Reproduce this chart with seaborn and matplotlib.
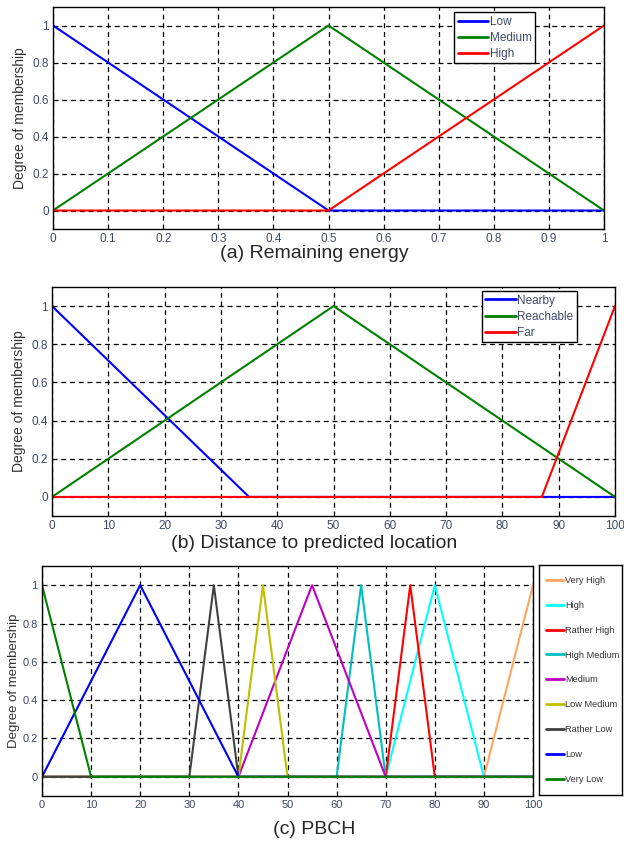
"""
Fuzzy membership functions: remaining energy, distance, PBCH.
"""

import matplotlib
matplotlib.use("Agg")
import pandas as pd
import matplotlib.pyplot as plt
import seaborn as sns

# ─── DATA ────────────────────────────────────────────────────────────────────

MU_TICKS = [0, 0.2, 0.4, 0.6, 0.8, 1]
MU_TICK_LABELS = ["0", "0.2", "0.4", "0.6", "0.8", "1"]

# (a) Remaining energy
ENERGY_SETS = ["Low", "Medium", "High"]
ENERGY_X = [0, 0.5, 1]
ENERGY_LOW = [1, 0, 0]
ENERGY_MEDIUM = [0, 1, 0]
ENERGY_HIGH = [0, 0, 1]
ENERGY_TICKS = [0, 0.1, 0.2, 0.3, 0.4, 0.5, 0.6, 0.7, 0.8, 0.9, 1]
ENERGY_TICK_LABELS = ["0", "0.1", "0.2", "0.3", "0.4", "0.5", "0.6", "0.7", "0.8", "0.9", "1"]

# (b) Distance to predicted location
DIST_SETS = ["Nearby", "Reachable", "Far"]
DIST_NEARBY_X = [0, 35, 100]
DIST_NEARBY = [1, 0, 0]
DIST_REACH_X = [0, 50, 100]
DIST_REACH = [0, 1, 0]
DIST_FAR_X = [0, 87, 100]
DIST_FAR = [0, 0, 1]

PCT_TICKS = [0, 10, 20, 30, 40, 50, 60, 70, 80, 90, 100]
PCT_TICK_LABELS = ["0", "10", "20", "30", "40", "50", "60", "70", "80", "90", "100"]

# (c) PBCH  (legend order, top to bottom)
PBCH_SETS = ["Very High", "High", "Rather High", "High Medium", "Medium",
             "Low Medium", "Rather Low", "Low", "Very Low"]
PBCH_X = {
    "Very High":   [0, 90, 100],
    "High":        [0, 70, 80, 90, 100],
    "Rather High": [0, 70, 75, 80, 100],
    "High Medium": [0, 60, 65, 70, 100],
    "Medium":      [0, 40, 55, 70, 100],
    "Low Medium":  [0, 40, 45, 50, 100],
    "Rather Low":  [0, 30, 35, 40, 100],
    "Low":         [0, 20, 40, 100],
    "Very Low":    [0, 10, 100],
}
PBCH_MU = {
    "Very High":   [0, 0, 1],
    "High":        [0, 0, 1, 0, 0],
    "Rather High": [0, 0, 1, 0, 0],
    "High Medium": [0, 0, 1, 0, 0],
    "Medium":      [0, 0, 1, 0, 0],
    "Low Medium":  [0, 0, 1, 0, 0],
    "Rather Low":  [0, 0, 1, 0, 0],
    "Low":         [0, 1, 0, 0],
    "Very Low":    [1, 0, 0],
}

# ─── STYLE ───────────────────────────────────────────────────────────────────

BLUE, GREEN, RED = "#0000ff", "#008000", "#ff0000"
PAL_ENERGY = {"Low": BLUE, "Medium": GREEN, "High": RED}
PAL_DIST = {"Nearby": BLUE, "Reachable": GREEN, "Far": RED}
PAL_PBCH = {
    "Very High": "#ffa560", "High": "#00ffff", "Rather High": RED,
    "High Medium": "#00bfbf", "Medium": "#bf00bf", "Low Medium": "#bfbf00",
    "Rather Low": "#404040", "Low": BLUE, "Very Low": GREEN,
}
TICK_COLOR = "#3d4a66"

sns.set_style("white")
plt.rcParams["font.family"] = ["Liberation Sans", "DejaVu Sans"]


def to_long(xs_by_set, ys_by_set, order):
    rows = []
    for name in order:
        for x, y in zip(xs_by_set[name], ys_by_set[name]):
            rows.append((name, x, y))
    return pd.DataFrame(rows, columns=["set", "x", "mu"])


def draw_panel(ax, df, order, palette, xlim, xticks, xticklabels):
    sns.lineplot(data=df, x="x", y="mu", hue="set", hue_order=order,
                 palette=palette, estimator=None, sort=False,
                 linewidth=1.5, ax=ax)
    ax.set_xlim(*xlim)
    ax.set_ylim(-0.1, 1.1)
    ax.set_xticks(xticks)
    ax.set_xticklabels(xticklabels)
    ax.set_yticks(MU_TICKS)
    ax.set_yticklabels(MU_TICK_LABELS)
    ax.grid(True, color="black", linestyle=(0, (4, 3)), linewidth=0.9)
    ax.tick_params(direction="in", length=3, labelsize=8.5,
                   labelcolor=TICK_COLOR, pad=3)
    for s in ax.spines.values():
        s.set_color("black")
        s.set_linewidth(1.0)
    ax.set_xlabel("")
    ax.set_ylabel("Degree of membership", fontsize=10, color="#333333")


def small_legend(ax, anchor):
    h, l = ax.get_legend_handles_labels()
    leg = ax.legend(h, l, loc="upper right", bbox_to_anchor=anchor,
                    borderaxespad=0, fontsize=8.5, handlelength=2.6,
                    handletextpad=0.1, labelspacing=0.35, borderpad=0.3,
                    fancybox=False, framealpha=1, edgecolor="black")
    leg.get_frame().set_linewidth(1.0)
    for t in leg.get_texts():
        t.set_color(TICK_COLOR)
    for line in leg.get_lines():
        line.set_linewidth(2)


W, H = 624, 844
fig = plt.figure(figsize=(W / 100, H / 100), dpi=100)


def box(l, t, r, b):
    return [l / W, 1 - b / H, (r - l) / W, (b - t) / H]


# (a)
ax_a = fig.add_axes(box(53, 7, 604, 229))
df_a = to_long({k: ENERGY_X for k in ENERGY_SETS},
               {"Low": ENERGY_LOW, "Medium": ENERGY_MEDIUM, "High": ENERGY_HIGH},
               ENERGY_SETS)
draw_panel(ax_a, df_a, ENERGY_SETS, PAL_ENERGY, (0, 1), ENERGY_TICKS, ENERGY_TICK_LABELS)
small_legend(ax_a, (0.875, 0.977))
fig.text(314 / W, 1 - 254 / H, "(a) Remaining energy", ha="center", va="center", fontsize=14)

# (b)
ax_b = fig.add_axes(box(52, 287, 615, 516))
df_b = to_long({"Nearby": DIST_NEARBY_X, "Reachable": DIST_REACH_X, "Far": DIST_FAR_X},
               {"Nearby": DIST_NEARBY, "Reachable": DIST_REACH, "Far": DIST_FAR},
               DIST_SETS)
draw_panel(ax_b, df_b, DIST_SETS, PAL_DIST, (0, 100), PCT_TICKS, PCT_TICK_LABELS)
small_legend(ax_b, (0.9325, 0.9825))
fig.text(314 / W, 1 - 544 / H, "(b) Distance to predicted location", ha="center",
         va="center", fontsize=14)

# (c)
ax_c = fig.add_axes(box(42, 566, 533, 796))
df_c = to_long(PBCH_X, PBCH_MU, PBCH_SETS)
draw_panel(ax_c, df_c, PBCH_SETS, PAL_PBCH, (0, 100), PCT_TICKS, PCT_TICK_LABELS)
ax_c.tick_params(labelsize=8)
ax_c.set_ylabel("Degree of membership", fontsize=9.5, color="#333333", labelpad=2)
handles, labels = ax_c.get_legend_handles_labels()
ax_c.get_legend().remove()
fig.text(314 / W, 1 - 830 / H, "(c) PBCH", ha="center", va="center", fontsize=14)

# legend box for (c), outside on the right
ax_leg = fig.add_axes(box(539, 565, 622, 795))
ax_leg.set_xticks([])
ax_leg.set_yticks([])
for s in ax_leg.spines.values():
    s.set_color("black")
    s.set_linewidth(1.0)
leg = ax_leg.legend(handles, labels, loc="center left", bbox_to_anchor=(0.0, 0.5),
                    frameon=False, fontsize=6.7, handlelength=2.0,
                    handletextpad=0.1, labelspacing=1.7, borderaxespad=0.3)
for t in leg.get_texts():
    t.set_color("#333333")
for line in leg.get_lines():
    line.set_linewidth(2)

fig.savefig("out.png", dpi=100)
plt.close(fig)
